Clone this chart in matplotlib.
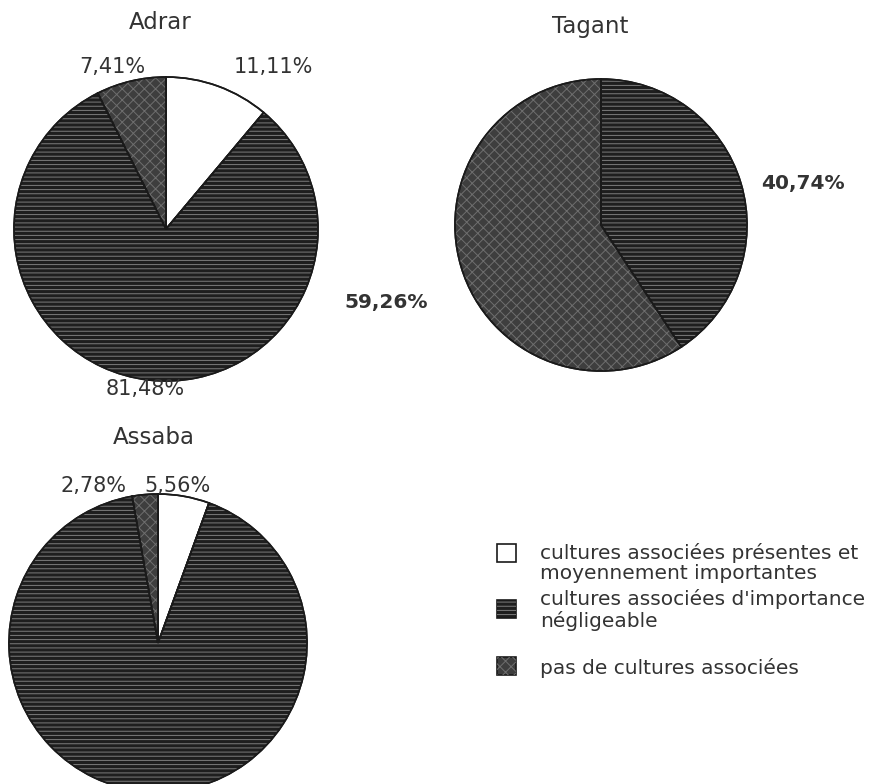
# Three pies: associated crops by region (Adrar, Tagant, Assaba)
import numpy as np
import matplotlib.pyplot as plt
from matplotlib.patches import Rectangle

plt.rcParams['font.family'] = ['DejaVu Sans']
plt.rcParams['hatch.linewidth'] = 0.7

categories = ['cultures associées présentes et\nmoyennement importantes',
              "cultures associées d'importance\nnégligeable",
              'pas de cultures associées']
regions = ['Adrar', 'Tagant', 'Assaba']
adrar = [11.11, 81.48, 7.41]
tagant = [0.0, 40.74, 59.26]
assaba = [5.56, 91.66, 2.78]

# styles
face = ['white', '#1e1e1e', '#3e3e3e']
hatches = ['', '----', 'xxx']
hatch_col = ['white', '#7c7c7c', '#6e6e6e']

W, H = 882, 784

# layout in pixels (x, y from top)
centers = [(166, 229), (601, 225), (158, 643)]
radii = [152, 146, 149]
title_pos = [(160, 22), (590, 26), (154, 437)]
label_pos = [
    [(273, 67), (145, 389), (112, 67)],
    [None, (803, 183), (386, 302)],
    [(177, 486), None, (93, 486)],
]
label_bold = [False, True, False]


def fmt(v):
    return f'{v:.2f}'.replace('.', ',') + '%'


fig = plt.figure(figsize=(W / 100, H / 100), dpi=100)
ax = fig.add_axes([0, 0, 1, 1])

for i, vals in enumerate([adrar, tagant, assaba]):
    cx, cy = centers[i]
    c = (cx, H - cy)
    # fill + outline
    ax.pie(vals, colors=face, startangle=90, counterclock=False,
           center=c, radius=radii[i],
           wedgeprops=dict(edgecolor='#1a1a1a', linewidth=1.2))
    # texture on top
    wedges, _ = ax.pie(vals, startangle=90, counterclock=False,
                       center=c, radius=radii[i],
                       wedgeprops=dict(facecolor='none', linewidth=0))
    for w, h, hc in zip(wedges, hatches, hatch_col):
        w.set_edgecolor(hc)
        w.set_hatch(h)
        w.set_linewidth(0)
    # outline again so it sits above texture
    ax.pie(vals, startangle=90, counterclock=False,
           center=c, radius=radii[i],
           wedgeprops=dict(facecolor='none', edgecolor='#1a1a1a', linewidth=1.2))

    tx, ty = title_pos[i]
    ax.text(tx, H - ty, regions[i], ha='center', va='center',
            fontsize=16.5, color='#333333')
    for v, p in zip(vals, label_pos[i]):
        if p is None:
            continue
        ax.text(p[0], H - p[1], fmt(v), ha='center', va='center',
                fontsize=14.5 if label_bold[i] else 15, color='#333333',
                fontweight='bold' if label_bold[i] else 'normal')

# legend, drawn by hand
box_y = [553, 609, 666]
text_y = [563, 610, 668]
for k, lab in enumerate(categories):
    ax.add_patch(Rectangle((497, H - box_y[k] - 9), 19, 18,
                           facecolor=face[k], edgecolor='#1a1a1a', linewidth=1.2))
    if hatches[k]:
        ax.add_patch(Rectangle((497, H - box_y[k] - 9), 19, 18,
                               facecolor='none', edgecolor=hatch_col[k],
                               hatch=hatches[k], linewidth=0))
    ax.text(540, H - text_y[k], lab, ha='left', va='center',
            fontsize=14.5, color='#333333', linespacing=1.12)

ax.set_xlim(0, W)
ax.set_ylim(0, H)
ax.set_aspect('equal')
ax.axis('off')

fig.savefig('out.png', dpi=100, facecolor='white')
